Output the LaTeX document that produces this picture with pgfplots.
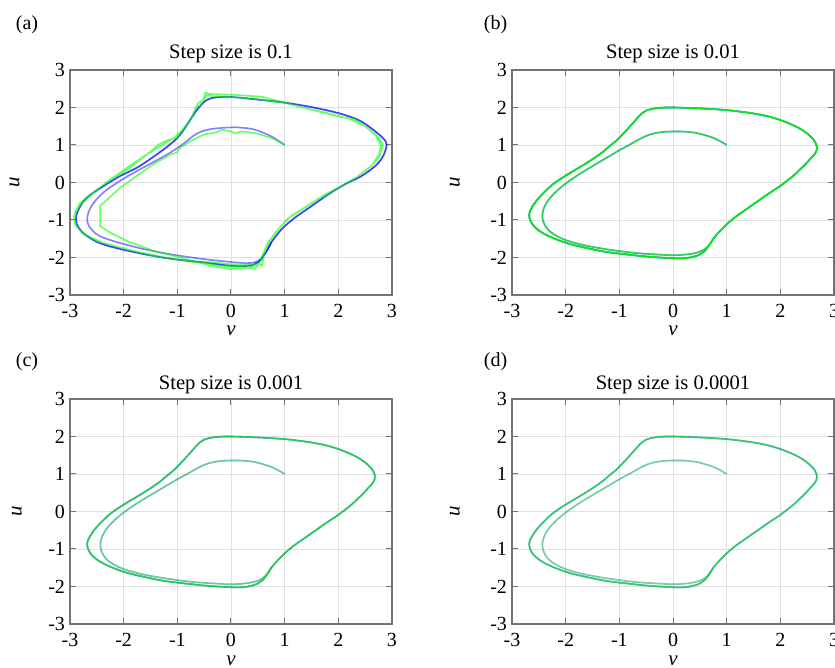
\documentclass[border=0pt]{standalone}
\usepackage{fontspec}
\setmainfont{Liberation Serif}
\usepackage{pgfplots}
\usepackage{pgfplotstable}
\pgfplotsset{compat=1.18}
\definecolor{mblue}{RGB}{0,0,255}
\definecolor{mgreen}{RGB}{0,255,0}

% panel (a): step 0.1, blue reference
\pgfplotstableread{
v u
1.00 1.00
0.75 1.23
0.44 1.41
0.20 1.46
0.00 1.47
-0.39 1.42
-0.64 1.30
-0.89 1.03
-1.14 0.79
-1.45 0.54
-1.76 0.30
-2.07 0.04
-2.38 -0.27
-2.60 -0.63
-2.68 -0.98
-2.60 -1.25
-2.38 -1.47
-1.76 -1.73
-1.14 -1.91
-0.52 -2.04
0.00 -2.12
0.30 -2.15
0.50 -2.10
0.62 -1.92
0.75 -1.60
}\aBlueIn
\pgfplotstableread{
v u
0.75 -1.60
0.94 -1.25
1.19 -0.94
1.50 -0.63
1.81 -0.32
2.12 -0.05
2.43 0.17
2.68 0.43
2.80 0.62
2.87 0.82
2.90 1.01
2.86 1.14
2.80 1.23
2.61 1.45
2.37 1.67
2.00 1.85
1.50 2.01
1.00 2.13
0.57 2.20
0.00 2.28
-0.27 2.27
-0.45 2.20
-0.61 1.98
-0.76 1.67
-0.95 1.27
-1.14 1.01
-1.45 0.68
-1.76 0.39
-2.07 0.17
-2.38 -0.10
-2.69 -0.41
-2.84 -0.72
-2.89 -0.98
-2.84 -1.20
-2.69 -1.42
-2.38 -1.65
-1.76 -1.87
-1.14 -2.03
-0.52 -2.13
0.00 -2.22
0.32 -2.22
0.50 -2.13
0.63 -1.91
0.75 -1.60
}\aBlueOut
% panel (a): step 0.1, green (rough)
\pgfplotstableread{
v u
1.00 1.00
0.75 1.19
0.44 1.32
0.19 1.36
0.08 1.31
0.00 1.36
-0.17 1.41
-0.27 1.34
-0.52 1.27
-0.76 1.10
-0.95 0.92
-1.01 0.80
-1.14 0.74
-1.45 0.48
-1.76 0.17
-2.07 -0.14
-2.30 -0.45
-2.44 -0.62
-2.44 -0.90
-2.44 -1.16
-2.25 -1.34
-1.94 -1.56
-1.45 -1.82
-0.83 -2.04
-0.39 -2.22
0.00 -2.31
0.30 -2.28
0.50 -2.20
0.58 -2.05
0.65 -1.75
0.72 -1.55
0.88 -1.25
1.12 -0.89
1.37 -0.67
1.75 -0.32
2.06 -0.10
2.37 0.17
2.61 0.43
2.77 0.70
2.83 1.01
2.74 1.23
2.55 1.45
2.30 1.69
2.00 1.76
1.50 1.94
1.00 2.13
0.57 2.29
0.00 2.34
-0.39 2.36
-0.48 2.40
-0.52 2.20
-0.61 2.12
-0.76 1.67
-0.92 1.36
-1.01 1.19
-1.20 1.12
-1.35 1.01
-1.57 0.74
-1.88 0.39
-2.19 0.12
-2.50 -0.19
-2.81 -0.54
-2.91 -0.81
-2.91 -1.12
-2.78 -1.34
-2.50 -1.56
-2.07 -1.73
-1.45 -1.96
-0.83 -2.09
-0.33 -2.13
0.00 -2.18
0.30 -2.20
0.53 -2.18
0.57 -2.00
0.69 -1.60
0.85 -1.30
1.05 -0.97
1.30 -0.74
1.65 -0.43
2.00 -0.15
2.35 0.15
2.62 0.45
2.76 0.75
2.79 1.00
2.70 1.25
2.50 1.50
2.20 1.70
1.80 1.85
1.40 1.98
1.00 2.12
0.50 2.22
0.00 2.28
-0.35 2.30
-0.45 2.33
-0.50 2.22
-0.58 2.05
-0.66 2.00
-0.72 1.75
-0.88 1.45
-1.05 1.20
-1.30 0.98
-1.60 0.72
-1.95 0.38
-2.30 0.03
-2.60 -0.32
-2.82 -0.62
-2.93 -0.90
-2.88 -1.18
-2.70 -1.40
-2.40 -1.60
-1.90 -1.80
-1.30 -1.98
-0.70 -2.12
-0.20 -2.22
0.20 -2.25
0.45 -2.30
0.52 -2.18
0.58 -2.22
0.62 -1.90
0.70 -1.62
0.85 -1.30
}\aGreen
% panels (b)-(d): first loop and limit cycle
\pgfplotstableread{
v u
1.00 1.00
0.88 1.10
0.75 1.19
0.60 1.26
0.44 1.32
0.22 1.355
0.00 1.36
-0.20 1.345
-0.38 1.30
-0.52 1.23
-0.67 1.12
-0.83 0.99
-1.00 0.86
-1.20 0.69
-1.45 0.48
-1.76 0.21
-2.02 -0.05
-2.22 -0.30
-2.36 -0.55
-2.43 -0.80
-2.42 -1.03
-2.34 -1.24
-2.20 -1.40
-2.01 -1.53
-1.75 -1.64
-1.45 -1.73
-1.10 -1.81
-0.70 -1.88
-0.30 -1.92
0.00 -1.94
0.25 -1.92
0.42 -1.88
0.54 -1.82
0.63 -1.73
0.70 -1.62
0.75 -1.50
}\cIn
\pgfplotstableread{
v u
0.75 -1.50
0.84 -1.35
0.94 -1.20
1.06 -1.04
1.19 -0.89
1.35 -0.73
1.50 -0.58
1.66 -0.42
1.81 -0.27
1.97 -0.12
2.12 0.04
2.26 0.20
2.37 0.35
2.47 0.49
2.56 0.63
2.64 0.76
2.68 0.88
2.67 1.01
2.62 1.14
2.53 1.27
2.42 1.39
2.28 1.50
2.12 1.60
1.95 1.69
1.75 1.77
1.50 1.84
1.25 1.89
1.00 1.93
0.57 1.97
0.00 2.00
-0.25 1.99
-0.40 1.96
-0.51 1.91
-0.59 1.83
-0.67 1.71
-0.75 1.58
-0.85 1.42
-0.95 1.27
-1.06 1.11
-1.18 0.97
-1.32 0.80
-1.50 0.62
-1.70 0.44
-1.90 0.27
-2.08 0.11
-2.24 -0.05
-2.38 -0.23
-2.50 -0.41
-2.59 -0.58
-2.65 -0.72
-2.68 -0.86
-2.66 -1.01
-2.60 -1.15
-2.50 -1.28
-2.36 -1.40
-2.15 -1.53
-1.90 -1.65
-1.60 -1.75
-1.25 -1.85
-0.85 -1.92
-0.45 -1.98
0.00 -2.02
0.22 -2.02
0.38 -1.98
0.50 -1.92
0.59 -1.83
0.67 -1.68
0.75 -1.50
}\cOut

\pgfplotsset{
  every axis title shift=0pt,
  panel/.style={width=161pt, height=112.5pt, scale only axis, anchor=south west,
    xmin=-3, xmax=3, ymin=-3, ymax=3,
    xtick={-3,-2,-1,0,1,2,3}, ytick={-3,-2,-1,0,1,2,3},
    xticklabels={-3,-2,-1,0,1,2,3}, yticklabels={-3,-2,-1,0,1,2,3},
    grid=major, grid style={black!12, line width=0.4pt},
    axis line style={black!55, line width=0.6pt},
    tick style={black!55, line width=0.5pt}, tick align=inside, major tick length=3pt,
    ticklabel style={font=\fontsize{10}{12}\selectfont},
    xticklabel style={yshift=-1pt}, yticklabel style={xshift=1pt},
    xlabel={\textit{v}}, ylabel={\textit{u}},
    label style={font=\fontsize{10.5}{12}\selectfont},
    y label style={at={(axis description cs:-0.172,0.5)}, anchor=center},
    title style={font=\fontsize{10.3}{12}\selectfont, anchor=base}},
  bl/.style={mblue, line width=0.8pt, draw opacity=0.5, smooth, tension=0.6, no markers},
  gr/.style={mgreen, line width=0.8pt, draw opacity=0.5, smooth, tension=0.6, no markers},
}

\begin{document}
\begin{tikzpicture}
\path[use as bounding box] (0,0) rectangle (417.5pt,334pt);

\begin{axis}[panel, at={(35pt,186.5pt)}, title={Step size is 0.1},
  title style={at={(axis description cs:0.5,1.052)}},
  x label style={at={(axis description cs:0.5,-0.16)}, anchor=center}]
\addplot[bl] table[x=v,y=u] {\aBlueIn};
\addplot[bl] table[x=v,y=u] {\aBlueOut};
\addplot[bl] table[x=v,y=u] {\aBlueOut};
\addplot[mgreen, line width=0.8pt, draw opacity=0.6, no markers] table[x=v,y=u] {\aGreen};
\end{axis}

\begin{axis}[panel, at={(256pt,186.5pt)}, title={Step size is 0.01},
  title style={at={(axis description cs:0.5,1.052)}},
  x label style={at={(axis description cs:0.5,-0.16)}, anchor=center},
  y label style={at={(axis description cs:-0.177,0.5)}}]
\addplot[bl] table[x=v,y=u] {\cIn};
\addplot[bl] table[x=v,y=u] {\cOut};
\addplot[bl] table[x=v,y=u] {\cOut};
\addplot[gr, draw opacity=0.65] table[x=v,y=u] {\cIn};
\addplot[gr, draw opacity=0.65] table[x=v,y=u] {\cOut};
\addplot[gr, draw opacity=0.65] table[x=v,y=u] {\cOut};
\end{axis}

\begin{axis}[panel, at={(35pt,22pt)}, title={Step size is 0.001},
  title style={at={(axis description cs:0.5,1.04)}},
  x label style={at={(axis description cs:0.5,-0.165)}, anchor=center},
  y label style={at={(axis description cs:-0.165,0.5)}}]
\addplot[bl, draw opacity=0.35] table[x=v,y=u] {\cIn};
\addplot[bl, draw opacity=0.35] table[x=v,y=u] {\cOut};
\addplot[bl, draw opacity=0.35] table[x=v,y=u] {\cOut};
\addplot[gr, draw opacity=0.4] table[x=v,y=u] {\cIn};
\addplot[gr, draw opacity=0.4] table[x=v,y=u] {\cOut};
\addplot[gr, draw opacity=0.4] table[x=v,y=u] {\cOut};
\end{axis}

\begin{axis}[panel, at={(256pt,22pt)}, title={Step size is 0.0001},
  title style={at={(axis description cs:0.5,1.04)}},
  x label style={at={(axis description cs:0.5,-0.165)}, anchor=center},
  y label style={at={(axis description cs:-0.177,0.5)}}]
\addplot[bl, draw opacity=0.3] table[x=v,y=u] {\cIn};
\addplot[bl, draw opacity=0.3] table[x=v,y=u] {\cOut};
\addplot[bl, draw opacity=0.3] table[x=v,y=u] {\cOut};
\addplot[gr, draw opacity=0.35] table[x=v,y=u] {\cIn};
\addplot[gr, draw opacity=0.35] table[x=v,y=u] {\cOut};
\addplot[gr, draw opacity=0.35] table[x=v,y=u] {\cOut};
\end{axis}

\node[font=\fontsize{10}{12}\selectfont] at (13.5pt,321.5pt) {(a)};
\node[font=\fontsize{10}{12}\selectfont] at (247.75pt,321.5pt) {(b)};
\node[font=\fontsize{10}{12}\selectfont] at (13.5pt,153.2pt) {(c)};
\node[font=\fontsize{10}{12}\selectfont] at (247.75pt,153.2pt) {(d)};
\end{tikzpicture}
\end{document}
